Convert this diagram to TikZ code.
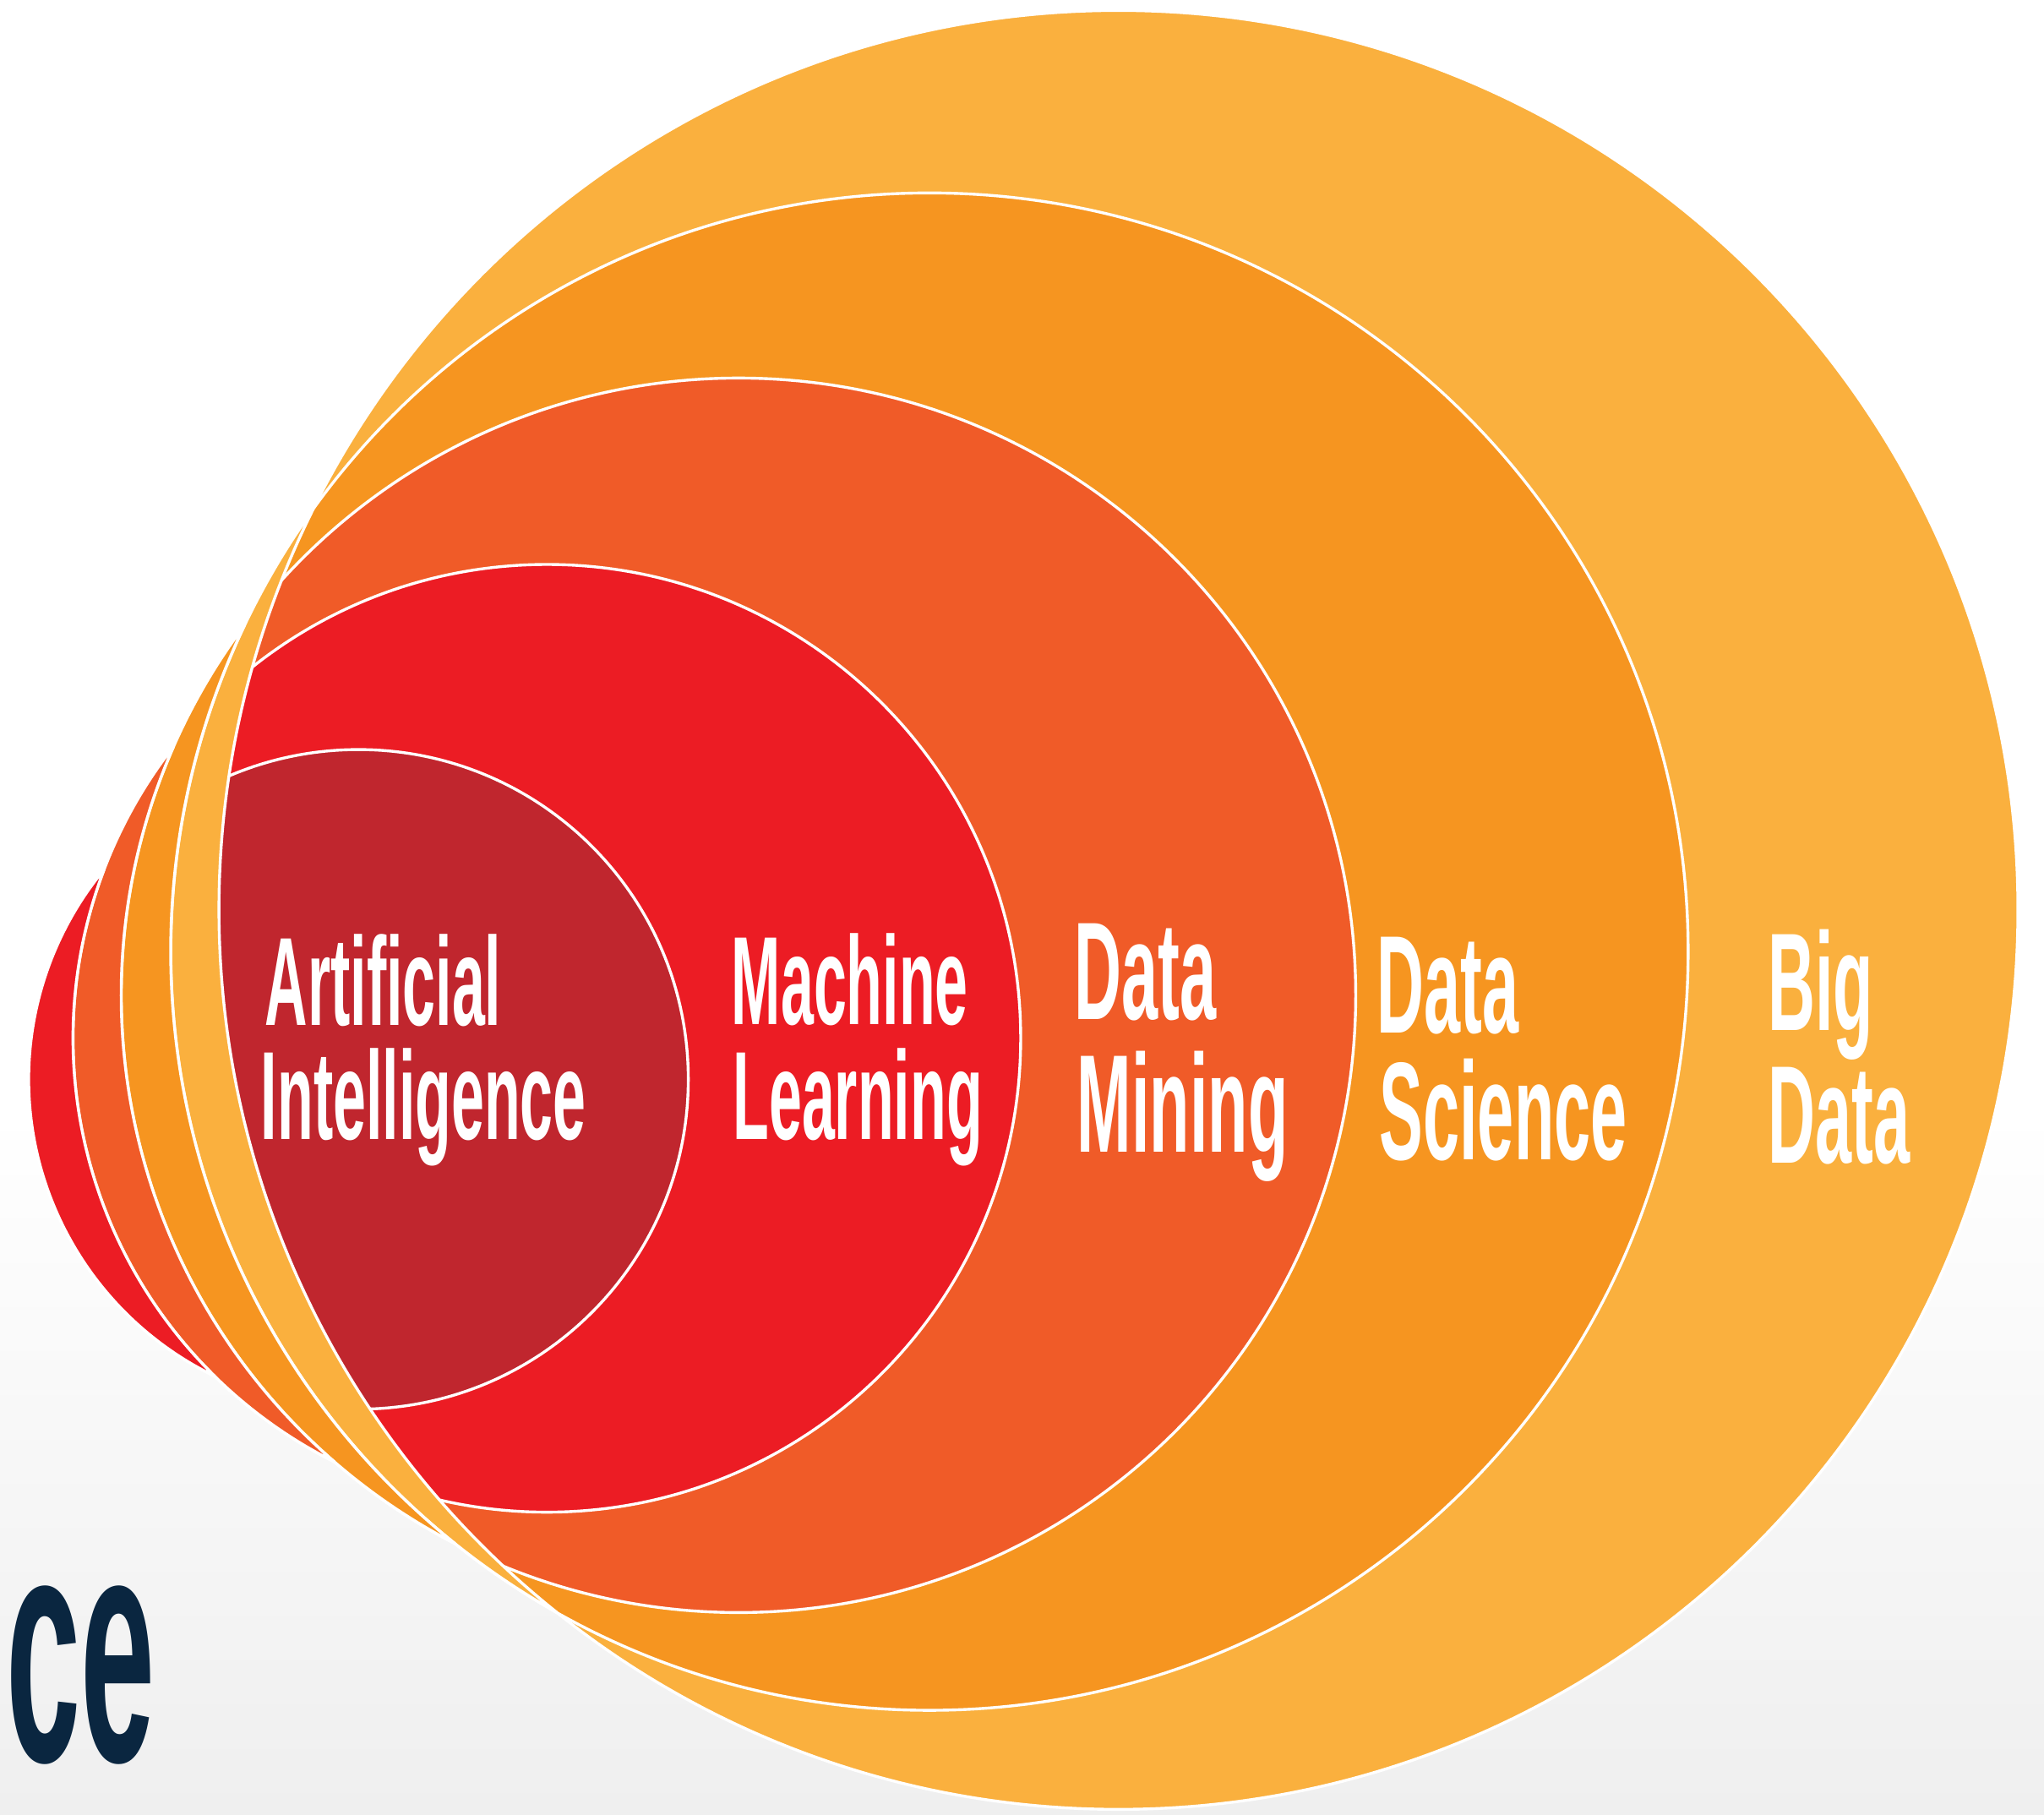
\documentclass[tikz,border=0pt]{standalone}
\usepackage{fontspec}
\newfontfamily\labelfont{Liberation Sans}[FakeStretch=0.47]
\newfontfamily\cefont{Liberation Sans}
\definecolor{colB}{RGB}{250,176,62}
\definecolor{colS}{RGB}{246,149,32}
\definecolor{colD}{RGB}{240,91,40}
\definecolor{colM}{RGB}{236,28,36}
\definecolor{colA}{RGB}{192,38,46}
\definecolor{navy}{RGB}{10,38,64}
\definecolor{bggray}{RGB}{239,239,239}
\tikzset{
  ring/.style={draw=white, line width=0.55mm, line join=round},
  labS/.style={text=white, inner sep=0pt, anchor=base west,
    font=\labelfont\bfseries\fontsize{68.6}{68.6}\selectfont},
  labL/.style={text=white, inner sep=0pt, anchor=base west,
    font=\labelfont\bfseries\fontsize{76}{76}\selectfont},
  bigtext/.style={text=navy, inner sep=0pt, anchor=base east,
    font=\cefont\bfseries\fontsize{178}{178}\selectfont}
}
\begin{document}
\begin{tikzpicture}[x=0.25mm, y=-0.25mm]
\useasboundingbox (0,0) rectangle (1568,1392);
% background
\fill[white] (0,0) rectangle (1568,1392);
\shade[top color=white, bottom color=bggray] (0,850) rectangle (1568,1392);
% centres
\coordinate (cB) at (858,698);
\coordinate (cS) at (713,730);
\coordinate (cD) at (566.5,763.5);
\coordinate (cM) at (419.5,796.5);
\coordinate (cA) at (275,828);
% circles
\filldraw[ring, fill=colB] (cB) circle[radius=690];
\filldraw[ring, fill=colS] (cS) circle[radius=582];
\filldraw[ring, fill=colD] (cD) circle[radius=473.5];
\filldraw[ring, fill=colM] (cM) circle[radius=363.5];
\filldraw[ring, fill=colA] (cA) circle[radius=253];
% crescents on the left
\filldraw[ring, fill=colB] ([shift={(215.70:582)}]cS)
  arc[start angle=215.70, end angle=119.41, radius=582]
  arc[start angle=128.63, end angle=206.48, radius=690] -- cycle;
\filldraw[ring, fill=colS] ([shift={(216.88:473.5)}]cD)
  arc[start angle=216.88, end angle=117.37, radius=473.5]
  arc[start angle=128.73, end angle=205.51, radius=582] -- cycle;
\filldraw[ring, fill=colD] ([shift={(218.05:363.5)}]cM)
  arc[start angle=218.05, end angle=116.65, radius=363.5]
  arc[start angle=130.90, end angle=203.79, radius=473.5] -- cycle;
\filldraw[ring, fill=colM] ([shift={(219.53:253)}]cA)
  arc[start angle=219.53, end angle=115.88, radius=253]
  arc[start angle=134.53, end angle=200.87, radius=363.5] -- cycle;
% labels
\node[labS] (aiA) at (203,786.5) {Artificial};
\node[labS] (aiB) at (200,874) {Intelligence};
\node[labS] (mlA) at (561,786) {Machine};
\node[labS] (mlB) at (562,874) {Learning};
\node[labL] (dmA) at (824,782) {Data};
\node[labL] (dmB) at (826,883.7) {Mining};
\node[labL] (dsA) at (1056,792.6) {Data};
\node[labL] (dsB) at (1058,889.8) {Science};
\node[labL] (bdA) at (1356,790.4) {Big};
\node[labL] (bdB) at (1356,892) {Data};
% cut-off title text
\node[bigtext] (ce) at (119,1351) {\scalebox{0.41}[1]{ce}};
\end{tikzpicture}
\end{document}
